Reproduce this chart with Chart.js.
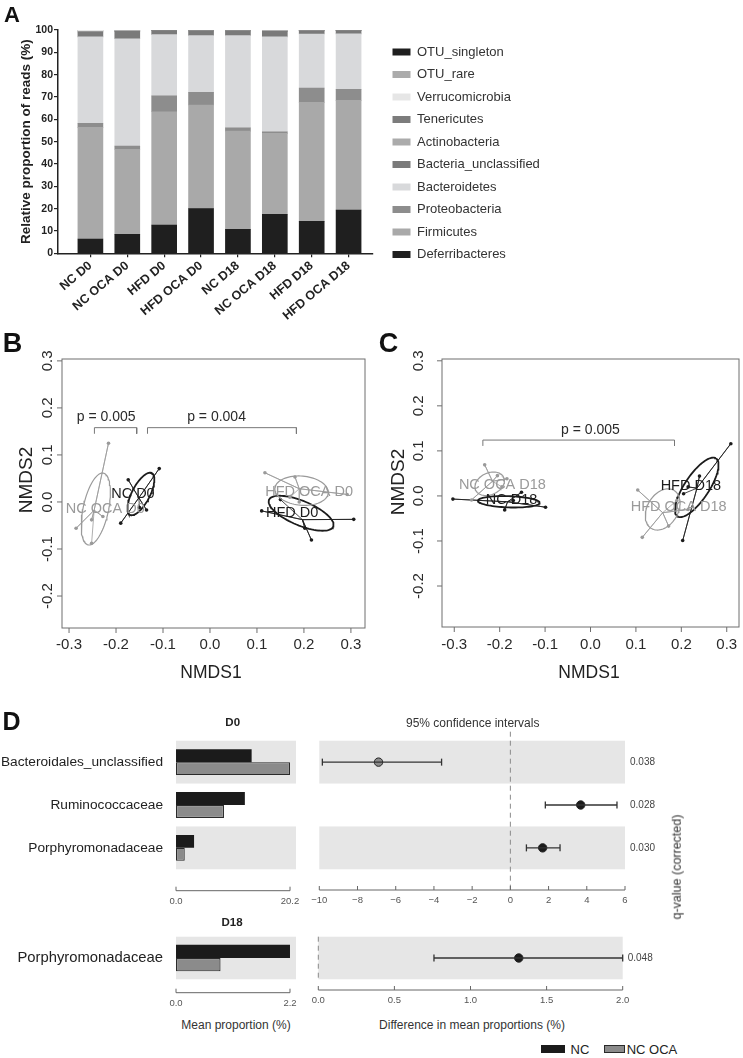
<!DOCTYPE html>
<html>
<head>
<meta charset="utf-8">
<title>Gut microbiota NC / HFD +/- OCA</title>
<script src="https://cdn.jsdelivr.net/npm/chart.js@4.4.1/dist/chart.umd.min.js"></script>
<style>
html, body { margin: 0; padding: 0; background: #fff; }
#page { position: relative; width: 743px; height: 1058px; overflow: hidden; font-family: "Liberation Sans", Arial, sans-serif; }
#page canvas { position: absolute; }
.txt { position: absolute; white-space: nowrap; line-height: 1; color: #222; }
.key { position: absolute; box-sizing: border-box; }
</style>
</head>
<body>
<div id="page">
  <canvas id="chartA" width="743" height="330" style="left:0;top:0"></canvas>
  <canvas id="chartB" width="372" height="350" style="left:0;top:340px"></canvas>
  <canvas id="chartC" width="371" height="350" style="left:372px;top:340px"></canvas>
  <canvas id="chartD0bar" width="300" height="210" style="left:0;top:700px"></canvas>
  <canvas id="chartD0ci" width="443" height="210" style="left:300px;top:700px"></canvas>
  <canvas id="chartD18bar" width="300" height="105" style="left:0;top:905px"></canvas>
  <canvas id="chartD18ci" width="443" height="105" style="left:300px;top:905px"></canvas>
</div>
<script>
'use strict';

const FONT = '"Liberation Sans", Arial, sans-serif';
Chart.defaults.font.family = FONT;

// ---------- panel A : relative abundance (%) ----------
const groupsA = ['NC D0', 'NC OCA D0', 'HFD D0', 'HFD OCA D0', 'NC D18', 'NC OCA D18', 'HFD D18', 'HFD OCA D18'];
const deferribacteres = [6.4, 8.5, 12.7, 20.0, 10.7, 17.5, 14.3, 19.4];
const firmicutes = [50.0, 38.0, 50.7, 46.4, 44.0, 36.2, 53.3, 49.1];
const proteobacteria = [1.8, 1.5, 7.1, 5.7, 1.5, 0.7, 6.4, 4.9];
const bacteroidetes = [38.7, 48.1, 27.4, 25.4, 41.3, 42.5, 24.2, 24.9];
const bacteriaUnclassified = [2.2, 3.3, 1.8, 2.1, 2.1, 2.5, 1.4, 1.4];
const actinobacteria = [0.1, 0.1, 0.05, 0.1, 0.1, 0.1, 0.1, 0.05];
const tenericutes = [0.1, 0.1, 0.05, 0.1, 0.1, 0.1, 0.1, 0.05];
const verrucomicrobia = [0.6, 0.3, 0.1, 0.1, 0.1, 0.3, 0.1, 0.1];
const otuRare = [0.05, 0.05, 0.05, 0.05, 0.05, 0.05, 0.05, 0.05];
const otuSingleton = [0.05, 0.05, 0.05, 0.05, 0.05, 0.05, 0.05, 0.05];
const yTicksA = [0, 10, 20, 30, 40, 50, 60, 70, 80, 90, 100];

// ---------- panel B : NMDS day 0 ----------
const ncOcaD0 = [[-0.285, -0.056], [-0.252, -0.038], [-0.228, -0.031], [-0.216, 0.125], [-0.252, -0.088]];
const ncD0 = [[-0.174, 0.047], [-0.108, 0.071], [-0.190, -0.045], [-0.135, -0.017], [-0.150, -0.012]];
const hfdOcaD0 = [[0.117, 0.062], [0.181, 0.053], [0.292, 0.016], [0.190, 0.000], [0.170, 0.010]];
const hfdD0 = [[0.110, -0.019], [0.306, -0.037], [0.202, -0.056], [0.216, -0.081], [0.150, 0.005]];
// ellipse: centre x, centre y, semi-axis a, semi-axis b, angle (deg)
const ellNcOcaD0 = [-0.243, -0.015, 0.078, 0.027, 78];
const ellNcD0 = [-0.147, 0.017, 0.050, 0.019, 62.5];
const ellHfdOcaD0 = [0.195, 0.024, 0.057, 0.031, -5];
const ellHfdD0 = [0.194, -0.024, 0.074, 0.026, -22.6];
const labelsB = [['NC OCA D0', -0.223, -0.016, 'grey'], ['NC D0', -0.164, 0.018, 'black'],
                 ['HFD OCA D0', 0.211, 0.021, 'grey'], ['HFD D0', 0.175, -0.024, 'black']];
// bracket: x1, x2, height, text, text x, text y
const bracketsB = [[-0.246, -0.156, 0.158, 'p = 0.005', -0.221, 0.181],
                   [-0.133, 0.184, 0.158, 'p = 0.004', 0.014, 0.181]];

// ---------- panel C : NMDS day 18 ----------
const ncOcaD18 = [[-0.233, 0.069], [-0.184, 0.038], [-0.262, -0.009], [-0.205, 0.045], [-0.195, 0.020]];
const ncD18 = [[-0.303, -0.007], [-0.152, 0.008], [-0.189, -0.031], [-0.099, -0.025], [-0.170, -0.010]];
const hfdD18 = [[0.309, 0.116], [0.240, 0.044], [0.203, -0.099], [0.215, 0.020], [0.205, 0.005]];
const hfdOcaD18 = [[0.104, 0.013], [0.114, -0.092], [0.172, -0.067], [0.215, -0.030], [0.190, -0.010]];
const ellNcOcaD18 = [-0.222, 0.027, 0.034, 0.024, 25];
const ellNcD18 = [-0.180, -0.013, 0.068, 0.0125, -2];
const ellHfdD18 = [0.234, 0.019, 0.077, 0.027, 56.7];
const ellHfdOcaD18 = [0.159, -0.030, 0.049, 0.034, 60];
const labelsC = [['NC OCA D18', -0.194, 0.024, 'grey'], ['NC D18', -0.174, -0.010, 'black'],
                 ['HFD D18', 0.221, 0.021, 'black'], ['HFD OCA D18', 0.194, -0.025, 'grey']];
const bracketsC = [[-0.237, 0.185, 0.124, 'p = 0.005', 0.0, 0.147]];

const nmdsXTicks = [-0.3, -0.2, -0.1, 0.0, 0.1, 0.2, 0.3];
const nmdsYTicks = [-0.2, -0.1, 0.0, 0.1, 0.2, 0.3];

// ---------- panel D : STAMP comparison ----------
const taxaD0 = ['Bacteroidales_unclassified', 'Ruminococcaceae', 'Porphyromonadaceae'];
const ncMeanD0 = [13.4, 12.2, 3.2];
const ncOcaMeanD0 = [20.2, 8.5, 1.55];
const diffD0 = [-6.9, 3.68, 1.69];
const ciLowD0 = [-9.84, 1.83, 0.84];
const ciHighD0 = [-3.6, 5.58, 2.6];
const qD0 = [0.038, 0.028, 0.030];
const meanTicksD0 = [0, 20.2];
const diffTicksD0 = [-10, -8, -6, -4, -2, 0, 2, 4, 6];

const taxaD18 = ['Porphyromonadaceae'];
const ncMeanD18 = [2.2];
const ncOcaMeanD18 = [0.86];
const diffD18 = [1.317];
const ciLowD18 = [0.76];
const ciHighD18 = [2.0];
const qD18 = [0.048];
const meanTicksD18 = [0, 2.2];
const diffTicksD18 = [0, 0.5, 1.0, 1.5, 2.0];

const GREY = '#9a9a9a';
const BLACK = '#1c1c1c';
const colorOf = c => (c === 'grey' ? GREY : BLACK);

// ====================== panel A ======================
const seriesA = [
  { name: 'Deferribacteres', values: deferribacteres, color: '#1f1f1f' },
  { name: 'Firmicutes', values: firmicutes, color: '#a9a9a9' },
  { name: 'Proteobacteria', values: proteobacteria, color: '#8d8d8d' },
  { name: 'Bacteroidetes', values: bacteroidetes, color: '#d8d9db' },
  { name: 'Bacteria_unclassified', values: bacteriaUnclassified, color: '#7a7a7a' },
  { name: 'Actinobacteria', values: actinobacteria, color: '#ababab' },
  { name: 'Tenericutes', values: tenericutes, color: '#7c7c7c' },
  { name: 'Verrucomicrobia', values: verrucomicrobia, color: '#e6e6e6' },
  { name: 'OTU_rare', values: otuRare, color: '#ababab' },
  { name: 'OTU_singleton', values: otuSingleton, color: '#1f1f1f' }
];

// keep the plot area fixed and put the legend where it sits in the figure
const legendSpot = {
  id: 'legendSpot',
  beforeLayout(chart) {
    const lg = chart.legend;
    if (lg && !lg._fixed) {
      const fit = lg.fit.bind(lg);
      lg.fit = function () { fit(); this.width = 370; };
      lg._fixed = true;
    }
  },
  afterLayout(chart) {
    const lg = chart.legend;
    lg.left = 383; lg.right = 743; lg.top = 36; lg.bottom = 330;
  }
};

new Chart(document.getElementById('chartA'), {
  type: 'bar',
  data: {
    datasets: seriesA.map(s => ({
      label: s.name,
      data: s.values.map((v, i) => ({ x: i, y: v })),
      backgroundColor: s.color,
      borderWidth: 0,
      barThickness: 25
    }))
  },
  options: {
    responsive: false,
    animation: false,
    layout: { padding: { left: 15.3, top: 30, right: 0, bottom: 5.6 } },
    scales: {
      x: {
        type: 'linear', stacked: true, min: -0.878, max: 7.662, offset: false,
        afterBuildTicks: s => { s.ticks = groupsA.map((g, i) => ({ value: i })); },
        ticks: { callback: v => groupsA[v], minRotation: 40, maxRotation: 40, padding: 1,
                 color: '#222', font: { size: 12.5, weight: 'bold' } },
        grid: { offset: false, drawOnChartArea: false, tickLength: 4, color: '#222', lineWidth: 1.2 },
        border: { color: '#222', width: 1.5 }
      },
      y: {
        stacked: true, min: 0, max: 100,
        afterBuildTicks: s => { s.ticks = yTicksA.map(v => ({ value: v })); },
        ticks: { padding: 1, color: '#222', font: { size: 10.5, weight: 'bold' } },
        grid: { drawOnChartArea: false, tickLength: 4, color: '#222', lineWidth: 1.2 },
        border: { color: '#222', width: 1.5 },
        title: { display: true, text: 'Relative proportion of reads (%)', color: '#222',
                 font: { size: 13.5, weight: 'bold' }, padding: { top: 3, bottom: 0 } }
      }
    },
    plugins: {
      legend: {
        position: 'right', align: 'start', reverse: true,
        labels: { boxWidth: 18, boxHeight: 7, padding: 9.5, color: '#333', font: { size: 13 } }
      },
      tooltip: { enabled: false }
    }
  },
  plugins: [legendSpot]
});

// ====================== panels B and C ======================
function mean(arr) { return arr.reduce((a, b) => a + b, 0) / arr.length; }

function ellipsePoints(e) {
  const [cx, cy, a, b, deg] = e;
  const t = deg * Math.PI / 180;
  const pts = [];
  for (let k = 0; k <= 80; k++) {
    const s = k / 80 * 2 * Math.PI;
    pts.push({
      x: cx + a * Math.cos(s) * Math.cos(t) - b * Math.sin(s) * Math.sin(t),
      y: cy + a * Math.cos(s) * Math.sin(t) + b * Math.sin(s) * Math.cos(t)
    });
  }
  return pts;
}

const rPlot = {
  id: 'rPlot',
  afterDraw(chart, args, o) {
    const { ctx, chartArea: ca, scales: { x, y } } = chart;
    ctx.save();
    ctx.strokeStyle = '#6e6e6e';
    ctx.lineWidth = 1;
    ctx.strokeRect(ca.left, ca.top, ca.right - ca.left, ca.bottom - ca.top);
    ctx.beginPath();
    o.xTicks.forEach(v => { const p = x.getPixelForValue(v); ctx.moveTo(p, ca.bottom); ctx.lineTo(p, ca.bottom + 5); });
    o.yTicks.forEach(v => { const p = y.getPixelForValue(v); ctx.moveTo(ca.left, p); ctx.lineTo(ca.left - 5, p); });
    ctx.stroke();

    ctx.fillStyle = '#2a2a2a';
    ctx.font = '15px ' + FONT;
    ctx.textAlign = 'center';
    ctx.textBaseline = 'middle';
    o.xTicks.forEach(v => ctx.fillText(v.toFixed(1), x.getPixelForValue(v), ca.bottom + o.xLabelDy));
    o.yTicks.forEach(v => {
      ctx.save();
      ctx.translate(ca.left - o.yLabelDx, y.getPixelForValue(v));
      ctx.rotate(-Math.PI / 2);
      ctx.fillText(v.toFixed(1), 0, 0);
      ctx.restore();
    });

    ctx.font = '14px ' + FONT;
    o.brackets.forEach(b => ctx.fillText(b[3], x.getPixelForValue(b[4]), y.getPixelForValue(b[5])));

    ctx.font = '14.5px ' + FONT;
    o.labels.forEach(l => {
      ctx.fillStyle = colorOf(l[3]);
      ctx.fillText(l[0], x.getPixelForValue(l[1]), y.getPixelForValue(l[2]));
    });
    ctx.restore();
  }
};

function ordinationChart(id, groups, brackets, labels, lims, pad, xLabelDy, yLabelDx) {
  const datasets = [];
  groups.forEach(g => {
    const cx = mean(g.pts.map(p => p[0]));
    const cy = mean(g.pts.map(p => p[1]));
    const spider = [];
    g.pts.forEach(p => spider.push({ x: cx, y: cy }, { x: p[0], y: p[1] }));
    datasets.push({ type: 'line', data: spider, borderColor: g.color, borderWidth: 0.8, pointRadius: 0 });
    datasets.push({ type: 'line', data: ellipsePoints(g.ell), borderColor: g.color, borderWidth: g.lw, pointRadius: 0 });
    datasets.push({ type: 'scatter', data: g.pts.map(p => ({ x: p[0], y: p[1] })), pointRadius: 1.8,
                    pointBackgroundColor: g.color, pointBorderWidth: 0 });
  });
  brackets.forEach(b => {
    const drop = 0.013;
    datasets.push({
      type: 'line',
      data: [{ x: b[0], y: b[2] - drop }, { x: b[0], y: b[2] }, { x: b[1], y: b[2] }, { x: b[1], y: b[2] - drop }],
      borderColor: '#777', borderWidth: 1, pointRadius: 0
    });
  });
  new Chart(document.getElementById(id), {
    type: 'scatter',
    data: { datasets },
    options: {
      responsive: false,
      animation: false,
      layout: { padding: pad },
      scales: {
        x: { type: 'linear', min: lims[0], max: lims[1], display: false },
        y: { type: 'linear', min: lims[2], max: lims[3], display: false }
      },
      plugins: {
        legend: { display: false },
        tooltip: { enabled: false },
        rPlot: { xTicks: nmdsXTicks, yTicks: nmdsYTicks, brackets, labels, xLabelDy, yLabelDx }
      }
    },
    plugins: [rPlot]
  });
}

ordinationChart('chartB', [
  { pts: ncOcaD0, ell: ellNcOcaD0, color: GREY, lw: 1.2 },
  { pts: ncD0, ell: ellNcD0, color: BLACK, lw: 1.8 },
  { pts: hfdOcaD0, ell: ellHfdOcaD0, color: GREY, lw: 1.2 },
  { pts: hfdD0, ell: ellHfdD0, color: BLACK, lw: 1.8 }
], bracketsB, labelsB, [-0.315, 0.330, -0.268, 0.304], { left: 62, top: 19, right: 7, bottom: 62 }, 17, 14);

ordinationChart('chartC', [
  { pts: ncOcaD18, ell: ellNcOcaD18, color: GREY, lw: 1.2 },
  { pts: ncD18, ell: ellNcD18, color: BLACK, lw: 1.8 },
  { pts: hfdOcaD18, ell: ellHfdOcaD18, color: GREY, lw: 1.2 },
  { pts: hfdD18, ell: ellHfdD18, color: BLACK, lw: 1.8 }
], bracketsC, labelsC, [-0.327, 0.327, -0.291, 0.304], { left: 70, top: 19, right: 3, bottom: 63 }, 18, 23);

// ====================== panel D ======================
const dPanel = {
  id: 'dPanel',
  beforeDatasetsDraw(chart, args, o) {
    const { ctx, chartArea: ca, scales: { x, y } } = chart;
    ctx.save();
    ctx.fillStyle = '#e6e6e6';
    for (let i = 0; i < o.rows; i += 2) {
      const a = y.getPixelForValue(i - 0.5), b = y.getPixelForValue(i + 0.5);
      ctx.fillRect(ca.left, Math.min(a, b), ca.right - ca.left, Math.abs(b - a));
    }
    if (o.dash) {
      const px = x.getPixelForValue(0);
      ctx.strokeStyle = '#8a8a8a';
      ctx.lineWidth = 1;
      ctx.setLineDash([5, 4]);
      ctx.beginPath();
      ctx.moveTo(px, ca.top - o.dash[0]);
      ctx.lineTo(px, ca.bottom + o.dash[1]);
      ctx.stroke();
    }
    ctx.restore();
  },
  afterDraw(chart, args, o) {
    const { ctx, chartArea: ca, scales: { x, y } } = chart;
    ctx.save();
    const yAxis = ca.bottom + o.axisGap;
    const first = x.getPixelForValue(o.ticks[0]);
    const last = x.getPixelForValue(o.ticks[o.ticks.length - 1]);
    ctx.strokeStyle = '#666';
    ctx.lineWidth = 1;
    ctx.beginPath();
    ctx.moveTo(first, yAxis);
    ctx.lineTo(last, yAxis);
    o.ticks.forEach(v => { const p = x.getPixelForValue(v); ctx.moveTo(p, yAxis); ctx.lineTo(p, yAxis - 4); });
    ctx.stroke();
    ctx.fillStyle = '#555';
    ctx.font = '9.5px ' + FONT;
    ctx.textAlign = 'center';
    ctx.textBaseline = 'middle';
    o.ticks.forEach(v => ctx.fillText(o.fmt(v), x.getPixelForValue(v), yAxis + 10.5));

    if (o.rowLabels) {
      ctx.fillStyle = '#222';
      ctx.font = o.rowLabelSize + 'px ' + FONT;
      ctx.textAlign = 'right';
      o.rowLabels.forEach((t, i) => ctx.fillText(t, ca.left - 13, y.getPixelForValue(i)));
    }
    if (o.qvals) {
      ctx.fillStyle = '#444';
      ctx.font = '10px ' + FONT;
      ctx.textAlign = 'left';
      o.qvals.forEach((q, i) => ctx.fillText(q.toFixed(3), ca.right + 5, y.getPixelForValue(i)));
    }
    ctx.restore();
  }
};

function meanChart(id, taxa, nc, ncOca, xMax, ticks, pad, catPct, axisGap, labelSize) {
  new Chart(document.getElementById(id), {
    type: 'bar',
    data: {
      labels: taxa,
      datasets: [
        { label: 'NC', data: nc, backgroundColor: '#1b1b1b', borderWidth: 0 },
        { label: 'NC OCA', data: ncOca, backgroundColor: '#8b8b8b', borderColor: '#2a2a2a',
          borderWidth: 1.2, borderSkipped: false }
      ]
    },
    options: {
      indexAxis: 'y',
      responsive: false,
      animation: false,
      layout: { padding: pad },
      datasets: { bar: { categoryPercentage: catPct, barPercentage: 1 } },
      scales: {
        x: { min: 0, max: xMax, display: false },
        y: { display: false, offset: true }
      },
      plugins: {
        legend: { display: false },
        tooltip: { enabled: false },
        dPanel: { rows: taxa.length, ticks, fmt: v => v.toFixed(1), axisGap, rowLabels: taxa, rowLabelSize: labelSize }
      }
    },
    plugins: [dPanel]
  });
}

function ciChart(id, diff, lo, hi, q, xMin, xMax, ticks, fmt, pad, axisGap, dash) {
  const datasets = diff.map((d, i) => ({
    type: 'line',
    data: [{ x: lo[i], y: i }, { x: hi[i], y: i }],
    borderColor: '#333', borderWidth: 1.3,
    pointStyle: 'line', rotation: 90, pointRadius: 3.5,
    pointBorderColor: '#333', pointBorderWidth: 1.3, clip: false
  }));
  datasets.push({
    type: 'scatter',
    data: diff.map((d, i) => ({ x: d, y: i })),
    pointRadius: 4.2,
    pointBackgroundColor: diff.map(d => (d < 0 ? '#8b8b8b' : '#1b1b1b')),
    pointBorderColor: '#222', pointBorderWidth: 1, clip: false
  });
  new Chart(document.getElementById(id), {
    type: 'scatter',
    data: { datasets },
    options: {
      responsive: false,
      animation: false,
      layout: { padding: pad },
      scales: {
        x: { type: 'linear', min: xMin, max: xMax, display: false },
        y: { type: 'linear', min: -0.5, max: diff.length - 0.5, reverse: true, display: false }
      },
      plugins: {
        legend: { display: false },
        tooltip: { enabled: false },
        dPanel: { rows: diff.length, ticks, fmt, axisGap, dash, qvals: q }
      }
    },
    plugins: [dPanel]
  });
}

const signed = v => (v < 0 ? '\u2212' : '') + Math.abs(v);

meanChart('chartD0bar', taxaD0, ncMeanD0, ncOcaMeanD0, 21.26, meanTicksD0,
  { left: 176, right: 4, top: 40.7, bottom: 40.7 }, 0.606, 21.4, 13.7);
ciChart('chartD0ci', diffD0, ciLowD0, ciHighD0, qD0, -10, 6, diffTicksD0, signed,
  { left: 19.3, right: 118, top: 40.7, bottom: 40.7 }, 20.7, [9, 20.7]);
meanChart('chartD18bar', taxaD18, ncMeanD18, ncOcaMeanD18, 2.316, meanTicksD18,
  { left: 176, right: 4, top: 31.7, bottom: 30.7 }, 0.627, 13.4, 14.8);
ciChart('chartD18ci', diffD18, ciLowD18, ciHighD18, qD18, 0, 2.0, diffTicksD18, v => v.toFixed(1),
  { left: 18.3, right: 120.3, top: 31.7, bottom: 30.7 }, 10.7, [0, 0]);

// ====================== free text ======================
const page = document.getElementById('page');
function addText(str, x, y, size, opts = {}) {
  const d = document.createElement('div');
  d.className = 'txt';
  d.textContent = str;
  d.style.left = x + 'px';
  d.style.top = y + 'px';
  d.style.fontSize = size + 'px';
  if (opts.bold) d.style.fontWeight = 'bold';
  if (opts.color) d.style.color = opts.color;
  d.style.transform = 'translate(-50%, -50%)' + (opts.rotate ? ' rotate(' + opts.rotate + 'deg)' : '');
  page.appendChild(d);
}
function addKey(x, y, w, h, fill, border) {
  const k = document.createElement('div');
  k.className = 'key';
  Object.assign(k.style, { left: x + 'px', top: y + 'px', width: w + 'px', height: h + 'px', background: fill,
                           border: border ? '1px solid ' + border : 'none' });
  page.appendChild(k);
}

addText('A', 12, 15, 22, { bold: true, color: '#111' });
addText('B', 12.5, 343, 27, { bold: true, color: '#111' });
addText('C', 388.5, 343, 27, { bold: true, color: '#111' });
addText('D', 11.5, 721, 25, { bold: true, color: '#111' });

addText('NMDS2', 25, 480, 19, { rotate: -90 });
addText('NMDS1', 211, 673, 17.5);
addText('NMDS2', 396.7, 481.7, 19, { rotate: -90 });
addText('NMDS1', 589, 673, 17.5);

addText('D0', 232.7, 723.3, 11.5, { bold: true });
addText('D18', 232, 922.7, 11.5, { bold: true });
addText('95% confidence intervals', 472.7, 723.3, 12, { color: '#333' });
addText('q-value (corrected)', 676.7, 866.7, 12.5, { rotate: -90, color: '#333' });
addText('Mean proportion (%)', 236, 1025, 12, { color: '#333' });
addText('Difference in mean proportions (%)', 472, 1025, 12, { color: '#333' });

addKey(540.7, 1045, 24.3, 7.7, '#1b1b1b');
addText('NC', 580, 1049, 13, { color: '#222' });
addKey(604, 1045, 21, 7.7, '#8b8b8b', '#2a2a2a');
addText('NC OCA', 652, 1049, 13, { color: '#222' });
</script>
</body>
</html>
